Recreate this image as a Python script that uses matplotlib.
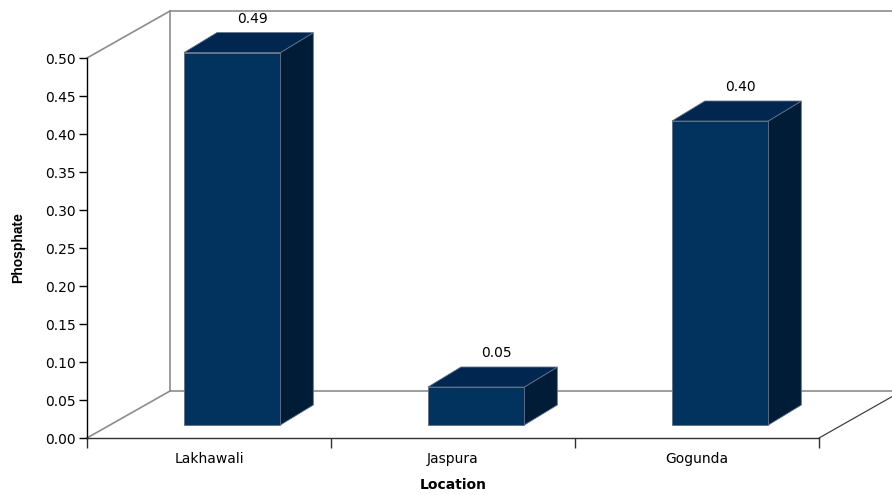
import matplotlib
matplotlib.use("Agg")
import matplotlib.pyplot as plt
from matplotlib.patches import Polygon

plt.rcParams['font.family'] = ['DejaVu Sans']

locations = ['Lakhawali', 'Jaspura', 'Gogunda']
phosphate = [0.49, 0.05, 0.40]
y_ticks = [0.00, 0.05, 0.10, 0.15, 0.20, 0.25, 0.30, 0.35, 0.40, 0.45, 0.50]

# pseudo-3D geometry, in data units (x: categories, y: value)
WALL_DX, WALL_DY = 0.34, 0.0618      # depth of the whole box
BAR_FX, BAR_FY = 0.10, 0.0171        # front face offset of the bars
BAR_BX, BAR_BY = 0.235, 0.0434       # back face offset of the bars
BAR_W = 0.395

FRONT = '#02335F'
TOP = '#012650'
SIDE = '#001C36'
EDGE = '#5F6F85'
WALL = '#8C8C8C'

fig = plt.figure(figsize=(8.92, 4.95), dpi=100)
ax = fig.add_axes([87 / 892, 57 / 495, 732 / 892, 380 / 495])
ax.set_xlim(-0.5, len(locations) - 0.5)
ax.set_ylim(0, 0.5)

# back wall and floor outline
x0, x1 = -0.5, len(locations) - 0.5
ytop = y_ticks[-1]
wall_kw = dict(color=WALL, lw=1.2, clip_on=False, zorder=1)
ax.plot([x0, x0 + WALL_DX], [ytop, ytop + WALL_DY], **wall_kw)
ax.plot([x0 + WALL_DX, x1 + WALL_DX], [ytop + WALL_DY, ytop + WALL_DY], **wall_kw)
ax.plot([x0 + WALL_DX, x0 + WALL_DX], [WALL_DY, ytop + WALL_DY], **wall_kw)
ax.plot([x0 + WALL_DX, x1 + WALL_DX], [WALL_DY, WALL_DY], **wall_kw)
ax.plot([x0, x0 + WALL_DX], [0, WALL_DY], **wall_kw)
ax.plot([x1, x1 + WALL_DX], [0, WALL_DY], color='#404040', lw=0.9,
        clip_on=False, zorder=1)

for i, v in enumerate(phosphate):
    l = i - BAR_W / 2 + BAR_FX - 0.005
    r = l + BAR_W
    b = BAR_FY
    t = v + BAR_FY
    ddx = BAR_BX - BAR_FX
    ddy = BAR_BY - BAR_FY
    front = [(l, b), (r, b), (r, t), (l, t)]
    top = [(l, t), (r, t), (r + ddx, t + ddy), (l + ddx, t + ddy)]
    side = [(r, b), (r + ddx, b + ddy), (r + ddx, t + ddy), (r, t)]
    for pts, c in ((side, SIDE), (top, TOP), (front, FRONT)):
        ax.add_patch(Polygon(pts, closed=True, facecolor=c, edgecolor=EDGE,
                             lw=0.6, clip_on=False, zorder=3))
    ax.annotate(f'{v:.2f}', xy=(l + BAR_W / 2 + ddx / 2 + 0.016, t + ddy),
                xytext=(0, 5), textcoords='offset points',
                ha='center', va='bottom', fontsize=10, annotation_clip=False)

for s in ('top', 'right'):
    ax.spines[s].set_visible(False)
ax.spines['left'].set_linewidth(1.0)
ax.spines['bottom'].set_linewidth(1.0)
ax.spines['bottom'].set_color('#303030')

ax.set_yticks(y_ticks)
ax.set_yticklabels([f'{t:.2f}' for t in y_ticks], fontsize=10)
ax.tick_params(axis='y', length=6, width=1, pad=2)

ax.set_xticks(range(len(locations)))
ax.set_xticklabels(locations, fontsize=10)
ax.set_xticks([k - 0.5 for k in range(len(locations) + 1)], minor=True)
ax.tick_params(axis='x', which='major', length=0, pad=10)
ax.tick_params(axis='x', which='minor', length=7, width=1, color='#303030')

ax.set_xlabel('Location', fontsize=10, fontweight='bold', va='center')
ax.xaxis.set_label_coords(0.5, (438 - 485) / 380)
ax.set_ylabel('Phosphate', fontsize=10, fontweight='bold', va='center',
              family=['Liberation Sans', 'DejaVu Sans'])
ax.yaxis.set_label_coords((18 - 87) / 732, 0.5)

fig.savefig('out.png', dpi=100)
